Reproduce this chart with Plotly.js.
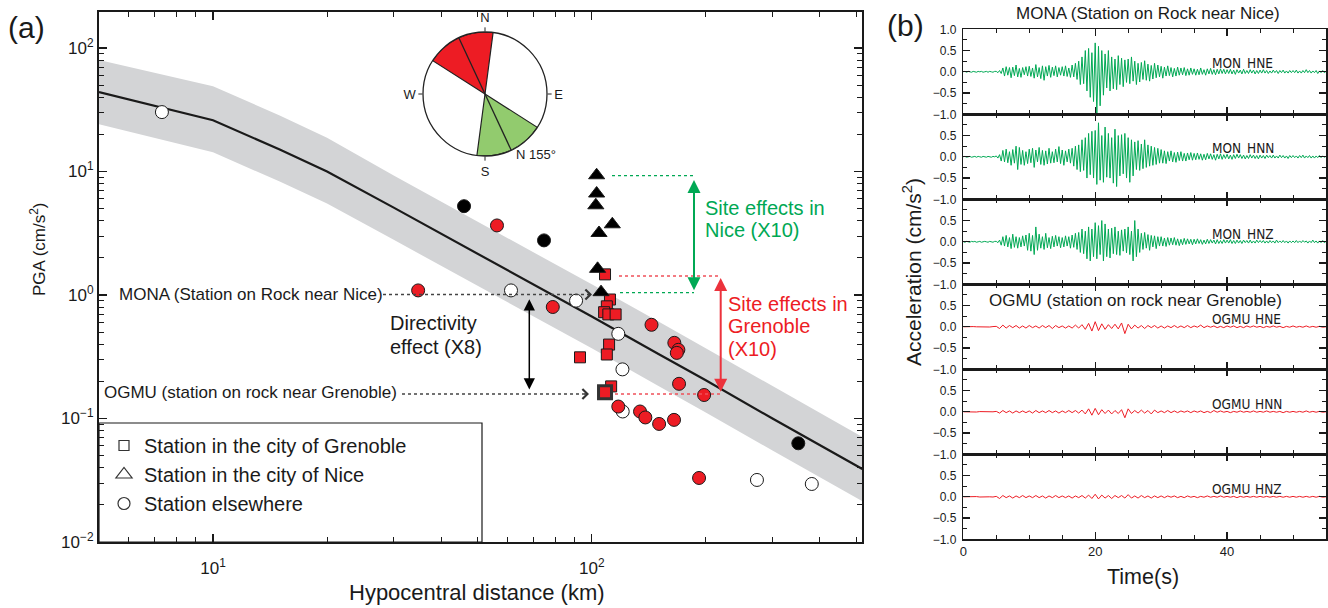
<!DOCTYPE html>
<html>
<head>
<meta charset="utf-8">
<script src="https://cdn.plot.ly/plotly-3.0.1.min.js"></script>
<style>html,body{margin:0;padding:0;background:#fff;}#chart{width:1328px;height:608px;}</style>
</head>
<body>
<div id="chart"></div>
<script>
// ---------------- Panel (a) data ----------------
const distCurve = [5, 7, 10, 15, 20, 30, 50, 70, 100, 150, 200, 300, 400, 518];
const pgaMedian = [44, 34, 26, 15.1, 10, 5.1, 2.17, 1.22, 0.67, 0.333, 0.204, 0.1, 0.061, 0.039];
const pgaUpper  = [80, 63, 49, 28.5, 18.8, 9.3, 3.95, 2.22, 1.22, 0.61, 0.37, 0.182, 0.111, 0.071];
const pgaLower  = [24.2, 18.7, 14.3, 8.3, 5.5, 2.8, 1.19, 0.67, 0.37, 0.183, 0.112, 0.055, 0.0335, 0.0214];

const elseDist = [7.33, 61.2, 90.9, 117.5, 120.5, 120.7, 273, 381];
const elsePga  = [30.3, 1.09, 0.90, 0.485, 0.25, 0.114, 0.0318, 0.0295];

const blackDist = [46.0, 74.8, 351];
const blackPga  = [5.24, 2.77, 0.063];

const redCircDist = [34.8, 56.2, 78.9, 143.8, 165.2, 169.3, 167.7, 170, 198, 117.5, 134.1, 138.5, 150.6, 164.9, 192];
const redCircPga  = [1.09, 3.66, 0.80, 0.574, 0.41, 0.36, 0.34, 0.191, 0.155, 0.125, 0.114, 0.102, 0.0904, 0.0975, 0.033];

const grenDist = [108.4, 111.7, 109.6, 107.8, 110.6, 115.6, 111.1, 109.6, 93.1, 112.5];
const grenPga  = [1.47, 0.92, 0.81, 0.726, 0.697, 0.697, 0.397, 0.33, 0.313, 0.182];
const ogmuDist = [108.4];
const ogmuPga  = [0.163];

const niceDist = [103, 103, 102.5, 113.3, 104.5, 103.6];
const nicePga  = [9.33, 6.64, 5.33, 3.74, 3.18, 1.63];
const monaDist = [105.8];
const monaPga  = [1.055];

const compassTheta = [155, 335];
const compassWidth = [65, 65];

const xTickVals = [10, 100];
const xTickText = ['10<sup>1</sup>', '10<sup>2</sup>'];
const yTickVals = [0.01, 0.1, 1, 10, 100];
const yTickText = ['10<sup>\u22122</sup>', '10<sup>\u22121</sup>', '10<sup>0</sup>', '10<sup>1</sup>', '10<sup>2</sup>'];

// ---------------- Panel (b) data ----------------
const dtMONA = 0.25;
const monaHNE = [
0,0.01,-0.01,0.01,0,-0.01,0.01,0,-0.01,0.01,0,0.01,-0.01,0,0.01,-0.01,0.01,0,-0.01,0.01,
0.01,-0.02,0.03,-0.04,0.09,-0.1,0.12,-0.08,0.1,-0.14,0.11,-0.09,0.16,-0.12,0.08,-0.13,0.1,-0.07,0.12,-0.1,
0.13,-0.11,0.09,-0.15,0.17,-0.12,0.1,-0.16,0.14,-0.2,0.12,-0.1,0.15,-0.13,0.11,-0.09,0.14,-0.12,0.1,-0.08,
0.12,-0.1,0.14,-0.11,0.09,-0.13,0.16,-0.12,0.2,-0.18,0.25,-0.3,0.35,-0.28,0.5,-0.45,0.55,-0.6,0.45,-0.7,
0.68,-1.0,0.6,-0.8,0.5,-0.55,0.42,-0.38,0.5,-0.45,0.35,-0.4,0.3,-0.42,0.38,-0.3,0.32,-0.35,0.28,-0.25,
0.3,-0.28,0.35,-0.22,0.25,-0.3,0.2,-0.24,0.22,-0.18,0.26,-0.2,0.18,-0.22,0.15,-0.17,0.2,-0.14,0.16,-0.12,
0.13,-0.15,0.11,-0.1,0.14,-0.09,0.1,-0.12,0.08,-0.1,0.11,-0.08,0.09,-0.07,0.1,-0.09,0.07,-0.08,0.09,-0.06,
0.07,-0.08,0.06,-0.07,0.09,-0.06,0.05,-0.08,0.07,-0.05,0.08,-0.06,0.05,-0.07,0.06,-0.05,0.07,-0.04,0.06,-0.05,
0.05,-0.04,0.06,-0.05,0.04,-0.06,0.05,-0.03,0.04,-0.05,0.06,-0.04,0.03,-0.04,0.05,-0.03,0.04,-0.05,0.03,-0.04,
0.04,-0.03,0.05,-0.03,0.03,-0.04,0.02,-0.03,0.04,-0.02,0.03,-0.04,0.03,-0.02,0.04,-0.03,0.02,-0.03,0.03,-0.02,
0.03,-0.02,0.04,-0.03,0.02,-0.03,0.03,-0.02,0.05,-0.02,0.03,-0.03,0.02,-0.02,0.03,-0.04,0.02,-0.02,0.03,-0.02,0.01];
const monaHNN = [
0,0.01,-0.01,0,0.01,-0.01,0,0.01,-0.01,0.01,0,-0.01,0.01,0,-0.01,0.01,0,-0.01,0.01,0,
0.02,-0.03,0.05,-0.1,0.15,-0.12,0.18,-0.14,0.12,-0.2,0.17,-0.15,0.25,-0.3,0.22,-0.18,0.15,-0.2,0.12,-0.16,
0.18,-0.14,0.2,-0.25,0.16,-0.12,0.22,-0.18,0.15,-0.2,0.14,-0.17,0.2,-0.15,0.12,-0.14,0.18,-0.12,0.24,-0.16,
0.16,-0.2,0.14,-0.12,0.18,-0.15,0.2,-0.22,0.25,-0.3,0.28,-0.35,0.4,-0.32,0.45,-0.5,0.55,-0.42,0.6,-0.5,
0.62,-0.65,0.8,-0.55,0.5,-0.6,0.7,-0.48,0.55,-0.5,0.45,-0.62,0.65,-0.7,0.5,-0.45,0.52,-0.4,0.55,-0.5,
0.45,-0.6,0.4,-0.45,0.35,-0.3,0.38,-0.32,0.3,-0.28,0.4,-0.25,0.28,-0.22,0.25,-0.2,0.22,-0.18,0.2,-0.15,
0.17,-0.15,0.14,-0.16,0.12,-0.1,0.14,-0.12,0.1,-0.13,0.11,-0.09,0.12,-0.1,0.08,-0.1,0.09,-0.07,0.1,-0.08,
0.08,-0.07,0.09,-0.06,0.07,-0.08,0.06,-0.07,0.08,-0.05,0.07,-0.06,0.05,-0.08,0.06,-0.05,0.07,-0.06,0.05,-0.04,
0.06,-0.05,0.04,-0.06,0.05,-0.04,0.06,-0.03,0.05,-0.04,0.04,-0.05,0.03,-0.04,0.05,-0.03,0.04,-0.04,0.03,-0.05,
0.04,-0.03,0.03,-0.04,0.04,-0.02,0.03,-0.03,0.04,-0.03,0.02,-0.03,0.04,-0.02,0.03,-0.03,0.02,-0.04,0.03,-0.02,
0.03,-0.02,0.02,-0.03,0.03,-0.02,0.04,-0.03,0.02,-0.02,0.03,-0.03,0.02,-0.03,0.02,-0.02,0.03,-0.02,0.02,-0.01,0.01];
const monaHNZ = [
0,-0.01,0.01,0,-0.01,0.01,0,0.01,-0.01,0,0.01,-0.01,0,0.01,0,-0.01,0.01,0,-0.01,0.01,
0.01,-0.02,0.04,-0.08,0.12,-0.1,0.15,-0.12,0.1,-0.16,0.18,-0.13,0.12,-0.15,0.1,-0.12,0.14,-0.1,0.16,-0.2,
0.2,-0.22,0.15,-0.3,0.35,-0.2,0.18,-0.15,0.12,-0.18,0.2,-0.14,0.1,-0.16,0.13,-0.12,0.15,-0.1,0.12,-0.14,
0.1,-0.12,0.14,-0.1,0.12,-0.15,0.16,-0.13,0.2,-0.18,0.22,-0.25,0.3,-0.28,0.25,-0.4,0.35,-0.45,0.3,-0.35,
0.45,-0.4,0.38,-0.3,0.5,-0.45,0.42,-0.35,0.3,-0.38,0.32,-0.28,0.35,-0.3,0.25,-0.32,0.28,-0.22,0.3,-0.26,
0.35,-0.3,0.25,-0.45,0.5,-0.35,0.3,-0.25,0.2,-0.18,0.22,-0.15,0.17,-0.2,0.15,-0.12,0.14,-0.16,0.12,-0.1,
0.12,-0.1,0.09,-0.11,0.1,-0.08,0.09,-0.07,0.1,-0.08,0.07,-0.09,0.06,-0.07,0.08,-0.06,0.07,-0.05,0.06,-0.07,
0.06,-0.05,0.07,-0.04,0.05,-0.06,0.04,-0.05,0.06,-0.04,0.05,-0.03,0.04,-0.05,0.05,-0.04,0.03,-0.04,0.05,-0.03,
0.04,-0.03,0.05,-0.04,0.03,-0.04,0.04,-0.03,0.03,-0.04,0.04,-0.02,0.03,-0.03,0.04,-0.03,0.02,-0.03,0.04,-0.02,
0.03,-0.02,0.03,-0.03,0.02,-0.03,0.03,-0.02,0.02,-0.03,0.04,-0.02,0.02,-0.02,0.03,-0.02,0.02,-0.03,0.02,-0.02,
0.02,-0.02,0.03,-0.02,0.02,-0.02,0.03,-0.01,0.02,-0.03,0.02,-0.02,0.04,-0.02,0.02,-0.03,0.02,-0.02,0.03,-0.02,0.01];

const dtOGMU = 0.5;
const ogmuHNE = [
0,0.005,-0.005,0.005,0,-0.005,0.005,0,-0.005,0.005,
0.01,-0.04,0.04,-0.03,0.03,-0.02,0.03,-0.03,0.02,-0.03,
0.03,-0.02,0.02,-0.03,0.03,-0.02,0.03,-0.04,0.03,-0.02,
0.02,-0.03,0.02,-0.03,0.04,-0.03,0.05,-0.06,0.08,-0.1,
0.12,-0.09,0.07,-0.06,0.05,-0.04,0.06,-0.05,0.09,-0.16,
0.06,-0.05,0.04,-0.03,0.03,-0.04,0.03,-0.02,0.03,-0.03,
0.02,-0.03,0.02,-0.02,0.03,-0.02,0.02,-0.02,0.03,-0.02,
0.02,-0.01,0.04,-0.02,0.02,-0.01,0.02,-0.02,0.01,-0.02,
0.02,-0.01,0.02,-0.02,0.01,-0.02,0.02,-0.01,0.02,-0.01,
0.01,-0.02,0.01,-0.01,0.02,-0.01,0.01,-0.02,0.01,-0.01,
0.02,-0.01,0.01,-0.01,0.02,-0.01,0.01,-0.01,0.01,-0.01,0];
const ogmuHNN = [
0,-0.005,0.005,0,-0.005,0.005,0,0.005,-0.005,0,
0.01,-0.03,0.03,-0.02,0.02,-0.03,0.02,-0.02,0.02,-0.02,
0.02,-0.03,0.03,-0.02,0.02,-0.02,0.03,-0.02,0.02,-0.03,
0.02,-0.02,0.03,-0.02,0.03,-0.03,0.04,-0.05,0.07,-0.08,
0.08,-0.07,0.05,-0.04,0.04,-0.05,0.03,-0.04,0.05,-0.14,
0.07,-0.04,0.03,-0.03,0.04,-0.03,0.03,-0.05,0.04,-0.02,
0.02,-0.02,0.03,-0.02,0.02,-0.02,0.02,-0.01,0.02,-0.02,
0.02,-0.01,0.02,-0.02,0.01,-0.02,0.03,-0.01,0.02,-0.01,
0.01,-0.02,0.01,-0.01,0.02,-0.01,0.01,-0.01,0.02,-0.01,
0.01,-0.01,0.02,-0.01,0.01,-0.01,0.01,-0.02,0.01,-0.01,
0.01,-0.01,0.01,-0.01,0.02,-0.01,0.01,-0.01,0.01,-0.01,0];
const ogmuHNZ = [
0,0.005,-0.005,0,0.005,-0.005,0,0.005,0,-0.005,
0.01,-0.04,0.03,-0.02,0.02,-0.03,0.02,-0.02,0.03,-0.02,
0.02,-0.02,0.03,-0.02,0.02,-0.03,0.02,-0.02,0.03,-0.02,
0.02,-0.02,0.02,-0.03,0.02,-0.02,0.03,-0.03,0.04,-0.04,
0.06,-0.05,0.04,-0.03,0.03,-0.04,0.03,-0.02,0.03,-0.03,
0.05,-0.03,0.02,-0.03,0.03,-0.02,0.02,-0.03,0.02,-0.02,
0.02,-0.02,0.02,-0.01,0.02,-0.02,0.01,-0.02,0.02,-0.01,
0.01,-0.02,0.01,-0.01,0.02,-0.01,0.01,-0.01,0.02,-0.01,
0.01,-0.01,0.01,-0.02,0.01,-0.01,0.01,-0.01,0.01,-0.01,
0.01,-0.01,0.01,-0.01,0.01,-0.01,0.01,-0.01,0.01,-0.01,
0.01,-0.01,0.01,-0.01,0.01,-0.01,0.01,-0.01,0.01,-0.01,0];

const seisStations = ['MON', 'MON', 'MON', 'OGMU', 'OGMU', 'OGMU'];
const seisComps = ['HNE', 'HNN', 'HNZ', 'HNE', 'HNN', 'HNZ'];
const seisData = [monaHNE, monaHNN, monaHNZ, ogmuHNE, ogmuHNN, ogmuHNZ];
const seisDt = [dtMONA, dtMONA, dtMONA, dtOGMU, dtOGMU, dtOGMU];

// ---------------- Layout helpers ----------------
const W = 1328, H = 608;
const fx = p => p / W;
const fy = p => 1 - p / H;
const FONT = 'Liberation Sans, Arial, Helvetica, sans-serif';
const NARROW = 'Liberation Sans Narrow, DejaVu Sans Condensed, Arial Narrow, sans-serif';
const GREEN = 'rgb(0,168,84)';
const RED = 'rgb(237,28,36)';
const INK = '#1a1a1a';

const traces = [];
// band
traces.push({x: distCurve, y: pgaLower, mode: 'lines', line: {width: 0, color: 'rgba(0,0,0,0)'}, showlegend: false, hoverinfo: 'skip', xaxis: 'x', yaxis: 'y'});
traces.push({x: distCurve, y: pgaUpper, mode: 'lines', line: {width: 0, color: 'rgba(0,0,0,0)'}, fill: 'tonexty', fillcolor: 'rgb(211,212,214)', showlegend: false, hoverinfo: 'skip', xaxis: 'x', yaxis: 'y'});
traces.push({x: distCurve, y: pgaMedian, mode: 'lines', line: {width: 2.2, color: INK}, showlegend: false, xaxis: 'x', yaxis: 'y'});

const outl = {color: INK, width: 1};
traces.push({x: elseDist, y: elsePga, mode: 'markers', marker: {symbol: 'circle', size: 13, color: '#fff', line: outl}, showlegend: false, xaxis: 'x', yaxis: 'y'});
traces.push({x: blackDist, y: blackPga, mode: 'markers', marker: {symbol: 'circle', size: 13, color: '#000', line: outl}, showlegend: false, xaxis: 'x', yaxis: 'y'});
traces.push({x: redCircDist, y: redCircPga, mode: 'markers', marker: {symbol: 'circle', size: 13, color: RED, line: outl}, showlegend: false, xaxis: 'x', yaxis: 'y'});
traces.push({x: grenDist, y: grenPga, mode: 'markers', marker: {symbol: 'square', size: 11, color: RED, line: outl}, showlegend: false, xaxis: 'x', yaxis: 'y'});
traces.push({x: ogmuDist, y: ogmuPga, mode: 'markers', marker: {symbol: 'square', size: 13, color: RED, line: {color: '#333', width: 3}}, showlegend: false, xaxis: 'x', yaxis: 'y'});
traces.push({x: niceDist, y: nicePga, mode: 'markers', marker: {symbol: 'triangle-up', size: 14, color: '#000', line: outl}, showlegend: false, xaxis: 'x', yaxis: 'y'});
traces.push({x: monaDist, y: monaPga, mode: 'markers', marker: {symbol: 'triangle-up', size: 14, color: '#000', line: outl}, showlegend: false, xaxis: 'x', yaxis: 'y'});

// legend dummies
const legendNames = ['Station in the city of Grenoble', 'Station in the city of Nice', 'Station elsewhere'];
const legendSymbols = ['square-open', 'triangle-up-open', 'circle-open'];
const legendSizes = [10, 14, 12];
legendNames.forEach((n, i) => traces.push({x: [null], y: [null], name: n, mode: 'markers',
  marker: {symbol: legendSymbols[i], size: legendSizes[i], color: '#333', line: {width: 1.2}}, xaxis: 'x', yaxis: 'y'}));

// compass
traces.push({type: 'barpolar', r: compassTheta.map(() => 1), theta: compassTheta, width: compassWidth,
  marker: {color: ['rgb(146,203,110)', RED], line: {color: '#222', width: 1.2}}, subplot: 'polar', showlegend: false});
traces.push({type: 'scatterpolar', r: [1, 0, 1], theta: [compassTheta[0], compassTheta[0], compassTheta[1]], mode: 'lines',
  line: {color: '#222', width: 1.3}, subplot: 'polar', showlegend: false});

const layout = {
  width: W, height: H, margin: {l: 0, r: 0, t: 0, b: 0}, autosize: false,
  paper_bgcolor: '#fff', plot_bgcolor: '#fff',
  font: {family: FONT, color: INK, size: 14},
  showlegend: true,
  legend: {x: fx(104), y: fy(426), xanchor: 'left', yanchor: 'top', bgcolor: 'rgba(0,0,0,0)', borderwidth: 0,
    font: {size: 20, family: FONT, color: INK}, itemsizing: 'trace', tracegroupgap: 0, traceorder: 'normal'},
  xaxis: {type: 'log', range: [Math.log10(5), 2.7135], domain: [fx(99), fx(862)], anchor: 'y',
    showline: true, linecolor: INK, linewidth: 2, mirror: 'ticks', ticks: 'inside', ticklen: 8, tickwidth: 1.2, tickcolor: INK,
    tickmode: 'array', tickvals: xTickVals, ticktext: xTickText, tickfont: {size: 17}, ticklabelstandoff: 10,
    minor: {tickmode: 'array', tickvals: [6,7,8,9,20,30,40,50,60,70,80,90,200,300,400,500], ticks: 'inside', ticklen: 5, tickwidth: 1, tickcolor: INK},
    showgrid: false, zeroline: false},
  yaxis: {type: 'log', range: [-2, 2.292], domain: [fy(542), fy(12)], anchor: 'x',
    showline: true, linecolor: INK, linewidth: 2, mirror: 'ticks', ticks: 'inside', ticklen: 8, tickwidth: 1.2, tickcolor: INK,
    tickmode: 'array', tickvals: yTickVals, ticktext: yTickText, tickfont: {size: 17},
    minor: {tickmode: 'array', tickvals: [0.02,0.03,0.04,0.05,0.06,0.07,0.08,0.09,0.2,0.3,0.4,0.5,0.6,0.7,0.8,0.9,2,3,4,5,6,7,8,9,20,30,40,50,60,70,80,90], ticks: 'inside', ticklen: 5, tickwidth: 1, tickcolor: INK},
    showgrid: false, zeroline: false},
  polar: {domain: {x: [fx(423), fx(547)], y: [fy(156), fy(32)]}, bgcolor: 'rgba(0,0,0,0)', hole: 0,
    radialaxis: {visible: false, range: [0, 1]},
    angularaxis: {direction: 'clockwise', rotation: 90, showline: true, linecolor: '#222', linewidth: 1.3,
      tickmode: 'array', tickvals: [0, 90, 180, 270], ticktext: ['N', 'E', 'S', 'W'], ticks: 'outside', ticklen: 4, tickcolor: '#222',
      showgrid: false, tickfont: {size: 13, color: INK}}},
  annotations: [], shapes: []
};

const panelTop0 = 29.3, panelH = 85;
for (let k = 0; k < 6; k++) {
  const n = k + 2;
  const top = panelTop0 + panelH * k, bot = top + panelH;
  const dt = seisDt[k];
  const ys = seisData[k];
  traces.push({x: ys.map((_, i) => i * dt), y: ys, mode: 'lines', line: {color: k < 3 ? GREEN : RED, width: 1},
    xaxis: 'x' + n, yaxis: 'y' + n, showlegend: false, hoverinfo: 'skip'});
  layout['xaxis' + n] = {domain: [fx(963.3), fx(1326)], range: [0, 55], anchor: 'y' + n,
    showline: true, linecolor: INK, linewidth: 1.5, mirror: 'ticks', ticks: 'inside', tick0: 0, dtick: 20, ticklen: 7, tickwidth: 1.2, tickcolor: INK,
    minor: {dtick: 5, ticks: 'inside', ticklen: 4, tickwidth: 1, tickcolor: INK},
    showticklabels: k === 5, tickfont: {size: 13}, showgrid: false, zeroline: false};
  const tv = k === 0 ? [-1, -0.5, 0, 0.5, 1] : [-1, -0.5, 0, 0.5];
  layout['yaxis' + n] = {domain: [fy(bot), fy(top)], range: [-1, 1], anchor: 'x' + n,
    showline: true, linecolor: INK, linewidth: 1.5, mirror: 'ticks', ticks: 'inside', ticklen: 7, tickwidth: 1.2, tickcolor: INK,
    tickmode: 'array', tickvals: tv, tickformat: '.1f', tickfont: {size: 12}, ticklabelstandoff: 3,
    minor: {tickmode: 'array', tickvals: [-0.75, -0.25, 0.25, 0.75], ticks: 'inside', ticklen: 4, tickwidth: 1, tickcolor: INK},
    showgrid: false, zeroline: false};
  const cy = [63, 148.3, 234, 319, 404.3, 489.3][k];
  layout.annotations.push({xref: 'paper', yref: 'paper', x: fx(1210), y: fy(cy), xanchor: 'left', yanchor: 'middle', showarrow: false,
    text: seisStations[k], font: {family: NARROW, size: 13.5, color: INK}});
  layout.annotations.push({xref: 'paper', yref: 'paper', x: fx(k < 3 ? 1245 : 1253), y: fy(cy), xanchor: 'left', yanchor: 'middle', showarrow: false,
    text: seisComps[k], font: {family: NARROW, size: 13.5, color: INK}});
}

function txt(t, x, y, size, opts) {
  layout.annotations.push(Object.assign({xref: 'paper', yref: 'paper', x: fx(x), y: fy(y), text: t, showarrow: false,
    xanchor: 'left', yanchor: 'middle', font: {family: FONT, size: size, color: INK}}, opts || {}));
}
txt('(a)', 26, 27, 30, {xanchor: 'center'});
txt('(b)', 905, 25, 30, {xanchor: 'center'});
txt('PGA (cm/s<sup>2</sup>)', 38, 249, 17, {xanchor: 'center', textangle: -90});
txt('Hypocentral distance (km)', 477, 592, 22, {xanchor: 'center'});
txt('Acceleration (cm/s<sup>2</sup>)', 912, 272, 21, {xanchor: 'center', textangle: -90});
txt('Time(s)', 1143, 577, 21.5, {xanchor: 'center'});
txt('MONA (Station on Rock near Nice)', 1148, 13, 17, {xanchor: 'center'});
txt('OGMU (station on rock near Grenoble)', 1135, 300, 17, {xanchor: 'center'});
txt('MONA (Station on Rock near Nice)', 117, 294, 17);
txt('OGMU (station on rock near Grenoble)', 102, 392, 17);
txt('Directivity', 388, 323, 20);
txt('effect (X8)', 388, 347, 20);
txt('Site effects in', 703, 208, 20, {font: {family: FONT, size: 20, color: GREEN}});
txt('Nice (X10)', 703, 230, 20, {font: {family: FONT, size: 20, color: GREEN}});
txt('Site effects in', 726, 304, 20, {font: {family: FONT, size: 20, color: RED}});
txt('Grenoble', 726, 326, 20, {font: {family: FONT, size: 20, color: RED}});
txt('(X10)', 726, 349, 20, {font: {family: FONT, size: 20, color: RED}});
txt('N 155°', 514, 154, 13);

function arrow(x, y, ay, color, width, size, both, head) {
  layout.annotations.push({xref: 'paper', yref: 'paper', x: fx(x), y: fy(y), ax: 0, ay: ay, text: '', showarrow: true,
    arrowhead: head || 2, arrowsize: size, arrowwidth: width, arrowcolor: color, standoff: 0, startstandoff: 0,
    arrowside: both ? 'end+start' : 'end', startarrowhead: head || 2, startarrowsize: size});
}
arrow(529.3, 299.3, 91.7, '#000', 1.5, 1.5, true);
arrow(694, 180, 111.7, GREEN, 2, 1.3, true);
arrow(720.7, 278, 115.3, 'rgb(236,50,60)', 2, 1.3, true);
// chevrons
layout.annotations.push({xref: 'paper', yref: 'paper', x: fx(592), y: fy(294.5), ax: -6, ay: 0, text: '', showarrow: true,
  arrowhead: 4, arrowsize: 1.3, arrowwidth: 1.5, arrowcolor: '#333', standoff: 0});
layout.annotations.push({xref: 'paper', yref: 'paper', x: fx(589), y: fy(394), ax: -6, ay: 0, text: '', showarrow: true,
  arrowhead: 4, arrowsize: 1.3, arrowwidth: 1.5, arrowcolor: '#333', standoff: 0});

function hline(x0, x1, y, color) {
  layout.shapes.push({type: 'line', xref: 'paper', yref: 'paper', x0: fx(x0), x1: fx(x1), y0: fy(y), y1: fy(y),
    line: {color: color, width: 1.3, dash: 'dot'}});
}
hline(383, 588, 294.5, '#444');
hline(402, 586, 394, '#444');
hline(612, 694, 175.7, GREEN);
hline(620, 694, 292.7, GREEN);
hline(619, 721, 276, 'rgb(240,80,90)');
hline(615, 720, 394, 'rgb(240,80,90)');
// legend box
layout.shapes.push({type: 'rect', xref: 'paper', yref: 'paper', x0: fx(99), x1: fx(482), y0: fy(542), y1: fy(423),
  line: {color: INK, width: 1.2}, fillcolor: 'rgba(0,0,0,0)'});

Plotly.newPlot('chart', traces, layout, {staticPlot: true, displayModeBar: false});
</script>
</body>
</html>
